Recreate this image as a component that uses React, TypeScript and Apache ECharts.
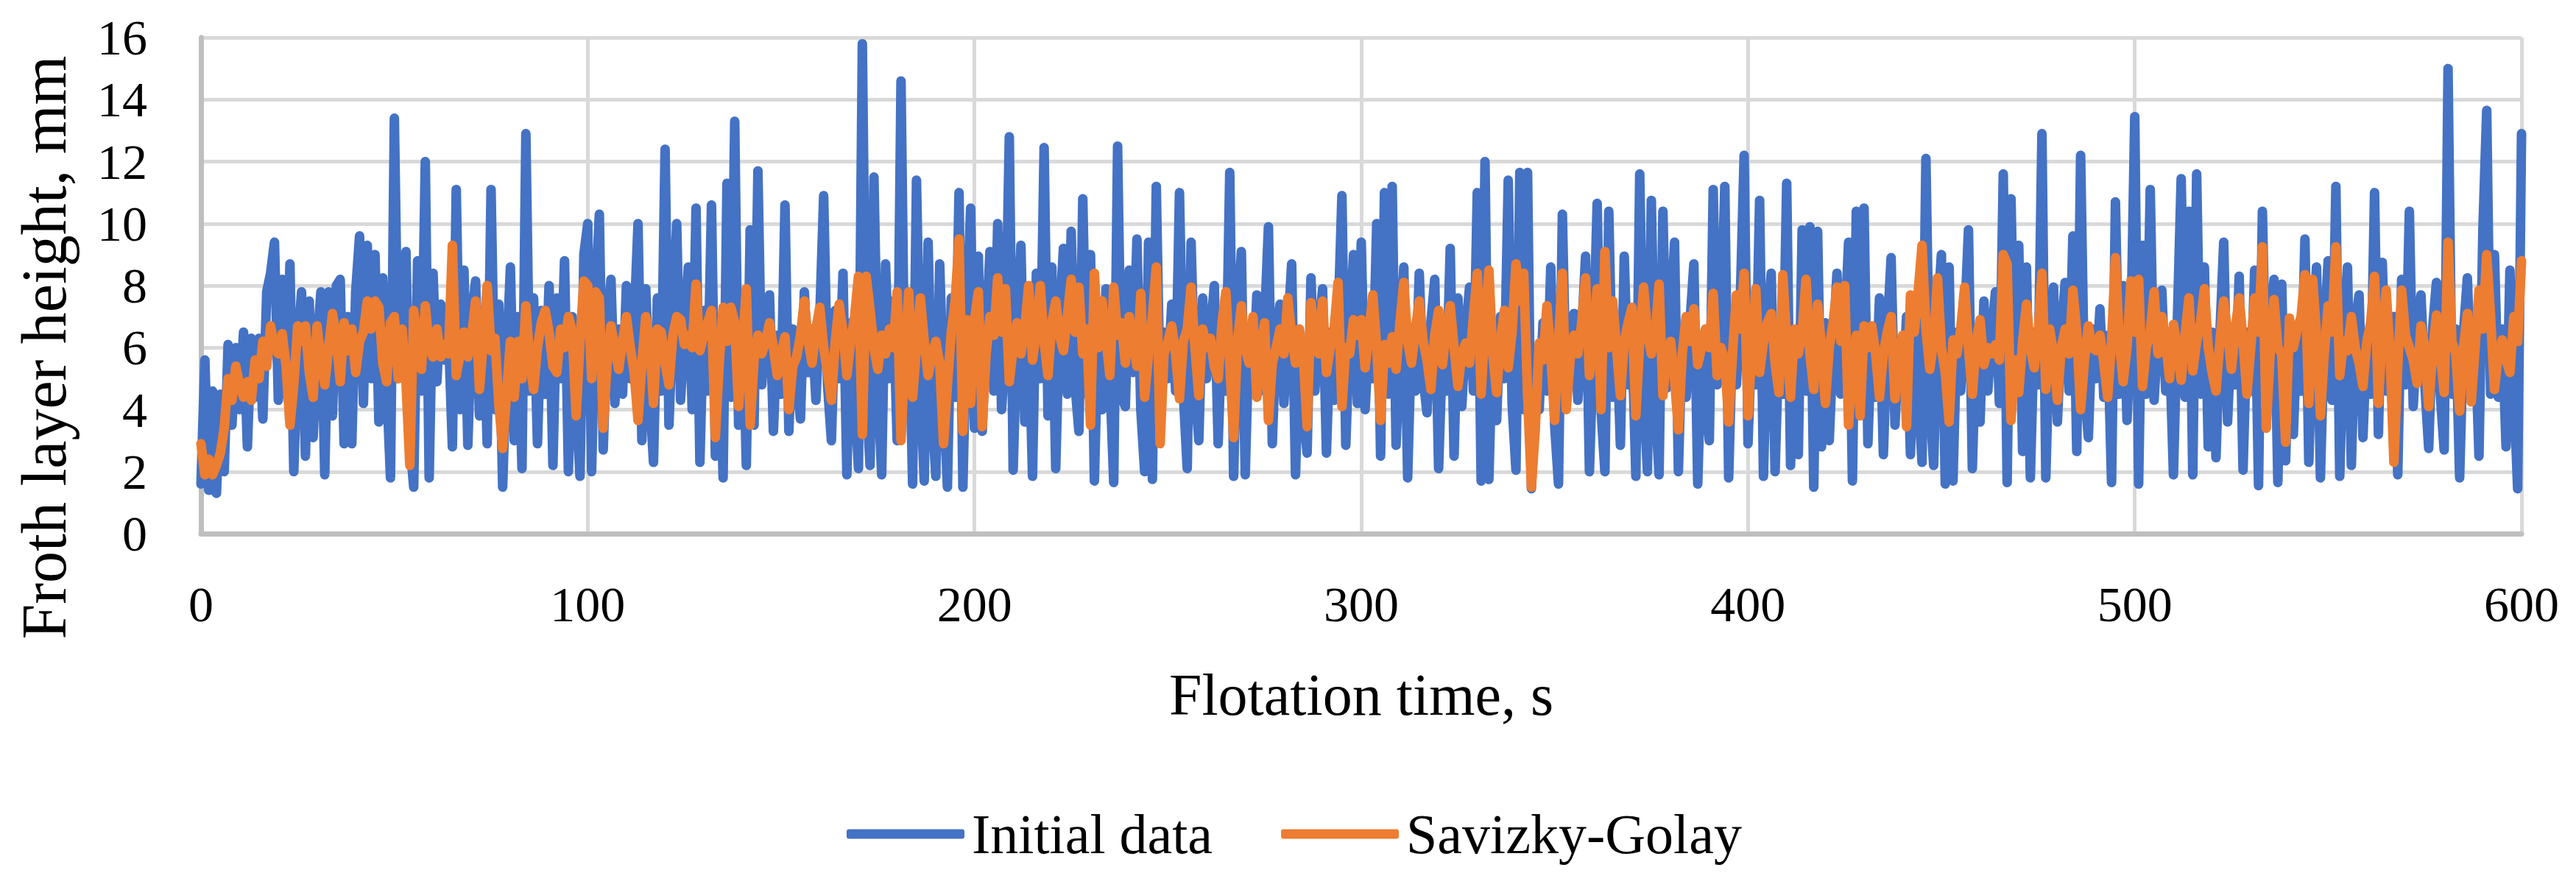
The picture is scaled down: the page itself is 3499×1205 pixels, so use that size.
import React, { useEffect, useRef } from "react";
import * as echarts from "echarts";

const FONT = '"Liberation Serif", "Times New Roman", serif';

// Sampling step of the recorded series (s)
const SAMPLE_STEP_S = 1;

// Initial data (froth layer height, mm), one value per second
const initial0to99 = [
  1.6, 5.6, 1.4, 4.6, 1.3, 4.5, 2.0, 6.1, 3.5, 6.0,
  4.0, 6.5, 2.8, 6.3, 4.4, 6.3, 3.7, 7.8, 8.4, 9.4,
  4.3, 8.2, 4.5, 8.7, 2.0, 6.0, 7.8, 2.5, 7.5, 3.1,
  6.0, 7.8, 1.9, 7.8, 3.8, 8.0, 8.2, 2.9, 7.0, 2.9,
  7.8, 9.6, 4.2, 9.3, 5.0, 9.0, 3.6, 8.25, 4.8, 1.8,
  13.4, 5.0, 7.6, 9.1, 3.0, 1.5, 8.8, 4.6, 12.0, 1.8,
  8.4, 4.9, 7.4, 5.6, 6.5, 2.8, 11.1, 4.0, 8.5, 2.85,
  7.0, 8.15, 3.8, 7.2, 2.9, 11.1, 4.0, 7.4, 1.5, 5.5,
  8.6, 3.0, 7.0, 2.1, 12.9, 4.6, 7.6, 2.9, 7.2, 4.5,
  8.0, 2.2, 7.6, 5.0, 8.8, 2.0, 7.0, 4.2, 1.85, 9.0,
];
const initial100to199 = [
  10.0, 2.0, 7.5, 10.3, 2.7, 6.5, 8.2, 4.2, 6.6, 4.5,
  8.0, 5.0, 6.8, 10.0, 3.0, 7.9, 4.5, 2.3, 7.6, 4.6,
  12.4, 3.5, 7.0, 10.0, 4.3, 6.4, 8.6, 4.0, 10.5, 2.3,
  7.2, 4.6, 10.6, 2.5, 6.7, 1.8, 11.3, 4.4, 13.3, 3.5,
  7.5, 2.2, 9.8, 3.5, 11.7, 4.8, 7.0, 7.7, 3.3, 6.4,
  4.5, 10.6, 3.3, 6.6, 5.0, 3.7, 7.8, 5.2, 6.6, 4.3,
  7.0, 10.9, 4.8, 3.0, 7.2, 5.0, 8.4, 1.9, 6.8, 4.6,
  2.1, 15.8, 4.5, 2.2, 11.5, 4.8, 1.9, 8.7, 5.0, 7.5,
  3.0, 14.6, 4.2, 7.3, 1.6, 11.4, 4.8, 1.7, 9.4, 4.0,
  1.85, 8.7, 4.5, 1.5, 7.6, 4.4, 11.0, 1.5, 7.0, 10.5,
];
const initial200to299 = [
  3.4, 8.95, 3.3, 6.5, 9.1, 4.6, 10.0, 4.0, 6.0, 12.8,
  2.05, 6.5, 9.3, 3.6, 6.8, 1.85, 8.4, 5.0, 12.45, 3.8,
  8.6, 2.1, 7.0, 9.2, 4.5, 9.75, 4.8, 3.3, 10.8, 4.5,
  9.0, 1.7, 6.8, 4.0, 7.9, 5.0, 1.65, 12.5, 4.4, 4.1,
  8.5, 5.2, 9.5, 4.0, 2.0, 9.4, 1.75, 11.2, 4.3, 6.5,
  5.0, 7.4, 4.6, 11.0, 4.5, 2.1, 9.4, 4.8, 3.0, 7.6,
  5.0, 6.5, 8.0, 2.9, 6.6, 4.6, 11.65, 1.85, 7.0, 9.1,
  1.9, 6.5, 4.8, 7.7, 4.6, 6.8, 9.9, 2.9, 6.4, 7.4,
  4.2, 6.5, 8.7, 1.9, 6.2, 4.0, 2.6, 8.25, 4.6, 6.5,
  7.9, 2.6, 6.5, 4.3, 6.8, 10.9, 2.85, 6.5, 9.0, 4.2,
];
const initial300to399 = [
  9.4, 4.0, 6.5, 5.0, 10.0, 2.5, 11.0, 4.5, 11.2, 2.85,
  6.0, 8.6, 1.8, 6.5, 4.6, 8.4, 5.0, 3.9, 6.8, 8.2,
  2.1, 6.0, 4.6, 9.2, 2.5, 7.6, 4.1, 6.5, 7.95, 4.6,
  11.0, 1.7, 12.0, 1.75, 6.5, 3.65, 7.0, 5.0, 11.4, 4.2,
  2.05, 11.65, 4.0, 11.65, 1.45, 5.5, 4.0, 6.8, 4.6, 8.6,
  3.5, 1.6, 10.3, 4.5, 6.0, 7.1, 4.3, 6.5, 8.95, 2.0,
  6.0, 10.65, 4.0, 2.0, 10.4, 4.4, 6.8, 2.85, 8.95, 4.8,
  6.4, 1.85, 11.6, 4.5, 2.0, 10.75, 4.2, 1.9, 10.4, 4.7,
  6.8, 9.4, 2.0, 6.5, 4.4, 6.8, 8.7, 1.6, 6.0, 4.5,
  3.0, 11.1, 4.8, 6.8, 11.2, 1.8, 6.5, 4.8, 7.5, 12.2,
];
const initial400to499 = [
  2.9, 6.5, 4.8, 10.75, 1.85, 6.8, 8.4, 2.0, 6.3, 4.5,
  11.3, 2.2, 6.5, 2.55, 9.8, 4.6, 9.9, 1.5, 9.75, 2.8,
  6.8, 3.0, 6.0, 8.4, 4.5, 6.5, 9.4, 1.7, 10.4, 4.6,
  10.5, 2.9, 6.6, 4.4, 7.6, 2.55, 6.5, 8.9, 3.5, 6.2,
  4.6, 7.0, 2.55, 6.8, 4.5, 2.3, 12.1, 4.3, 2.2, 7.0,
  9.0, 1.6, 8.6, 1.7, 6.5, 4.6, 6.8, 9.8, 2.1, 6.4,
  3.6, 7.5, 4.6, 6.5, 7.8, 4.2, 11.6, 1.65, 10.8, 4.5,
  9.3, 2.65, 8.6, 1.8, 6.5, 4.8, 12.9, 1.8, 6.6, 7.95,
  3.6, 6.5, 8.1, 4.6, 9.6, 2.65, 12.2, 4.6, 3.1, 6.6,
  5.0, 7.25, 4.4, 6.4, 1.65, 10.7, 4.5, 8.0, 3.65, 6.5,
];
const initial500to600 = [
  13.45, 1.6, 9.3, 4.5, 11.1, 4.3, 6.5, 7.85, 4.6, 6.0,
  1.9, 6.8, 11.45, 4.4, 10.4, 1.9, 11.6, 4.5, 8.6, 2.8,
  6.5, 2.45, 6.4, 9.4, 3.6, 6.6, 4.8, 8.3, 2.05, 6.5,
  4.6, 8.5, 1.55, 10.4, 4.4, 6.6, 8.2, 1.65, 8.05, 2.35,
  6.8, 3.2, 6.5, 4.6, 9.5, 2.3, 6.6, 8.6, 1.8, 6.5,
  8.8, 4.3, 11.2, 1.85, 6.5, 8.6, 2.2, 6.8, 7.7, 3.1,
  6.4, 4.5, 11.0, 3.2, 8.75, 4.6, 6.8, 7.0, 1.9, 8.2,
  4.8, 10.4, 4.1, 6.5, 7.7, 4.8, 2.75, 6.6, 8.1, 4.5,
  2.7, 15.0, 4.5, 6.6, 1.8, 6.5, 8.25, 4.5, 6.4, 2.5,
  9.75, 13.65, 4.5, 9.0, 4.4, 6.6, 2.8, 8.5, 4.6, 1.45,
  12.9,
];

// Savizky-Golay smoothed series (mm), one value per second
const smooth0to99 = [
  2.9, 1.9, 2.4, 1.9, 2.2, 2.6, 3.4, 5.0, 4.3, 5.4,
  4.8, 4.4, 4.9, 4.3, 5.6, 5.0, 6.2, 5.4, 6.7, 6.0,
  5.8, 6.45, 5.4, 3.5, 4.8, 6.7, 6.2, 6.7, 5.2, 4.4,
  6.7, 5.6, 4.8, 6.0, 7.1, 6.3, 4.9, 6.8, 5.9, 6.6,
  5.2, 6.2, 6.5, 7.5, 6.6, 7.5, 7.3, 5.5, 4.9, 6.8,
  7.0, 5.0, 6.6, 4.9, 2.2, 7.2, 6.1, 5.3, 7.35, 6.0,
  5.7, 6.6, 5.7, 6.1, 5.8, 9.3, 5.1, 5.8, 6.5, 5.7,
  6.4, 7.5, 4.65, 6.2, 8.0, 5.9, 6.3, 4.2, 2.75, 4.5,
  6.2, 4.4, 6.2, 5.0, 7.35, 5.6, 4.65, 6.0, 6.8, 7.2,
  6.5, 5.4, 5.2, 6.6, 6.0, 7.0, 6.5, 3.8, 6.2, 8.15,
];
const smooth100to199 = [
  8.0, 5.0, 7.8, 7.6, 3.4, 5.5, 6.7, 6.0, 5.3, 6.2,
  7.0, 6.0, 5.2, 3.65, 5.5, 7.0, 6.2, 4.2, 6.6, 6.5,
  5.5, 4.8, 6.4, 7.0, 6.9, 6.1, 6.4, 6.0, 8.05, 5.9,
  6.4, 6.8, 7.2, 3.1, 5.5, 7.3, 6.2, 7.3, 6.8, 4.1,
  6.0, 7.9, 3.5, 5.6, 6.4, 5.8, 6.2, 6.8, 6.0, 5.1,
  5.8, 6.35, 4.0, 5.4, 5.7, 6.4, 7.5, 6.2, 5.5, 6.6,
  7.3, 6.0, 5.2, 4.3, 6.2, 7.4, 6.5, 5.1, 6.2, 7.0,
  8.3, 3.2, 8.3, 7.2, 6.0, 5.3, 6.4, 5.8, 6.6, 6.0,
  7.8, 3.0, 5.8, 7.8, 4.4, 6.0, 7.6, 6.2, 5.1, 5.8,
  6.2, 5.5, 2.9, 4.8, 6.5, 7.5, 9.5, 3.3, 6.9, 4.2,
];
const smooth200to299 = [
  6.9, 7.8, 3.45, 5.8, 7.0, 6.4, 8.25, 6.5, 7.9, 4.9,
  6.0, 6.8, 5.8, 6.6, 8.0, 5.6, 6.5, 8.0, 6.2, 5.1,
  6.8, 7.5, 6.4, 5.9, 7.0, 8.2, 6.5, 7.95, 5.8, 6.6,
  3.5, 8.4, 6.0, 7.5, 6.3, 5.1, 7.95, 6.4, 6.8, 5.5,
  7.0, 6.2, 5.4, 7.75, 4.4, 5.8, 7.0, 8.6, 2.9, 5.8,
  6.2, 6.7, 5.8, 4.35, 6.2, 6.6, 7.95, 6.0, 4.45, 6.6,
  6.0, 6.3, 5.4, 5.0, 6.8, 7.8, 5.5, 3.1, 6.2, 7.35,
  6.0, 5.5, 7.0, 4.4, 6.0, 6.8, 3.65, 5.5, 6.0, 6.6,
  5.8, 7.6, 6.4, 5.5, 6.6, 5.8, 3.45, 7.45, 6.5, 5.8,
  7.5, 5.2, 6.0, 6.6, 8.1, 4.1, 6.0, 5.8, 6.9, 6.4,
];
const smooth300to399 = [
  6.9, 5.35, 6.5, 7.7, 6.0, 3.65, 6.1, 5.5, 6.35, 5.3,
  6.8, 8.1, 6.2, 5.5, 6.6, 7.5, 6.2, 5.6, 4.65, 6.4,
  7.2, 5.45, 6.6, 7.35, 6.0, 4.75, 5.8, 6.15, 5.5, 7.0,
  8.4, 4.5, 6.8, 8.5, 5.8, 4.55, 6.2, 7.2, 5.35, 6.5,
  8.7, 7.5, 8.4, 4.5, 1.5, 3.4, 6.15, 5.6, 7.35, 5.8,
  3.65, 6.2, 8.4, 4.0, 5.6, 6.4, 5.8, 6.8, 8.25, 5.1,
  6.3, 7.9, 4.0, 9.1, 6.0, 7.5, 6.0, 4.45, 6.2, 6.8,
  7.3, 3.8, 6.2, 7.95, 6.5, 5.8, 6.4, 8.05, 4.45, 5.8,
  6.2, 5.0, 3.35, 5.8, 7.0, 6.2, 7.25, 5.45, 6.0, 6.6,
  6.0, 7.75, 5.1, 6.0, 5.6, 3.6, 5.8, 7.7, 6.6, 8.4,
];
const smooth400to499 = [
  3.8, 6.0, 7.9, 5.2, 6.2, 6.8, 7.1, 5.5, 4.55, 8.35,
  6.2, 4.4, 6.6, 5.8, 6.5, 8.2, 5.8, 4.65, 7.4, 6.0,
  4.2, 6.0, 6.8, 7.95, 6.2, 8.0, 3.5, 5.5, 6.4, 3.8,
  6.7, 6.0, 6.7, 5.8, 4.4, 5.8, 6.5, 7.0, 4.35, 5.8,
  6.4, 3.45, 7.7, 6.5, 7.8, 9.3, 6.6, 5.3, 6.2, 8.25,
  6.0, 5.2, 3.6, 6.25, 5.8, 6.6, 7.95, 6.0, 4.5, 6.2,
  6.9, 5.45, 6.0, 5.8, 6.1, 5.6, 9.0, 8.7, 3.65, 5.6,
  4.55, 6.2, 7.4, 6.0, 5.35, 6.4, 8.4, 4.65, 6.6, 5.8,
  4.3, 6.0, 6.6, 5.8, 7.85, 6.5, 4.0, 5.6, 6.7, 6.0,
  5.9, 6.4, 5.5, 4.4, 6.2, 8.9, 6.2, 4.9, 6.0, 8.15,
];
const smooth500to600 = [
  6.5, 8.2, 4.75, 6.0, 6.5, 7.8, 5.8, 7.0, 6.2, 5.0,
  6.75, 6.0, 4.95, 6.4, 7.6, 5.25, 6.2, 6.8, 7.9, 6.0,
  5.2, 4.6, 6.2, 7.5, 6.5, 5.3, 6.6, 7.6, 6.2, 4.5,
  6.0, 7.6, 6.5, 9.25, 3.4, 5.8, 7.55, 6.0, 5.8, 2.95,
  6.95, 6.0, 6.6, 7.0, 8.35, 4.2, 8.2, 6.4, 3.8, 5.8,
  7.35, 6.5, 9.25, 5.1, 6.2, 5.9, 7.0, 6.0, 5.5, 4.75,
  6.2, 6.8, 8.3, 4.2, 6.5, 7.85, 5.8, 2.3, 5.4, 7.85,
  6.4, 6.0, 5.6, 4.85, 6.7, 6.0, 4.1, 5.8, 7.05, 5.8,
  4.55, 9.4, 6.2, 5.8, 3.95, 6.0, 7.1, 4.25, 6.0, 7.85,
  6.6, 9.0, 7.0, 4.65, 5.8, 6.25, 5.6, 5.2, 7.0, 6.2,
  8.8,
];

const SERIES_NAMES = ["Initial data", "Savizky-Golay"];
const SERIES_COLORS = ["#4472C4", "#ED7D31"];
const X_AXIS_TITLE = "Flotation time, s";
const Y_AXIS_TITLE = "Froth layer height, mm";

const initialData = [
  ...initial0to99, ...initial100to199, ...initial200to299,
  ...initial300to399, ...initial400to499, ...initial500to600,
];
const smoothData = [
  ...smooth0to99, ...smooth100to199, ...smooth200to299,
  ...smooth300to399, ...smooth400to499, ...smooth500to600,
];

const toPairs = (vals: number[]) => vals.map((v, i) => [i * SAMPLE_STEP_S, v]);

export default function App() {
  const ref = useRef<HTMLDivElement>(null);
  useEffect(() => {
    if (!ref.current) return;
    const chart = echarts.init(ref.current, null, { renderer: "svg" });
    const lineCommon = {
      type: "line",
      showSymbol: false,
      symbol: "none",
      silent: true,
      animation: false,
      clip: true,
    };
    chart.setOption({
      animation: false,
      backgroundColor: "#ffffff",
      grid: { left: 273, right: 74, top: 51, bottom: 480 },
      xAxis: {
        type: "value",
        min: 0,
        max: 600,
        interval: 100,
        axisLine: { show: true, lineStyle: { color: "#bfbfbf", width: 7 } },
        axisTick: { show: false },
        axisLabel: {
          margin: 62,
          fontFamily: FONT,
          fontSize: 68,
          color: "#000",
        },
        splitLine: { show: true, lineStyle: { color: "#d9d9d9", width: 5 } },
      },
      yAxis: {
        type: "value",
        min: 0,
        max: 16,
        interval: 2,
        axisLine: { show: true, lineStyle: { color: "#bfbfbf", width: 7 } },
        axisTick: { show: false },
        axisLabel: {
          margin: 73,
          fontFamily: FONT,
          fontSize: 68,
          color: "#000",
        },
        splitLine: { show: true, lineStyle: { color: "#d9d9d9", width: 5 } },
      },
      legend: {
        left: 1145,
        top: 1090,
        itemWidth: 160,
        itemHeight: 13,
        itemGap: 93,
        icon: "roundRect",
        data: SERIES_NAMES,
        textStyle: {
          fontFamily: FONT,
          fontSize: 76,
          color: "#000",
          padding: [0, 0, 0, 5],
        },
      },
      graphic: [
        {
          type: "text",
          x: 60,
          y: 472,
          rotation: Math.PI / 2,
          style: {
            text: Y_AXIS_TITLE,
            font: `86px ${FONT}`,
            fill: "#000",
            textAlign: "center",
            textVerticalAlign: "middle",
          },
        },
        {
          type: "text",
          x: 1849,
          y: 944,
          style: {
            text: X_AXIS_TITLE,
            font: `80px ${FONT}`,
            fill: "#000",
            textAlign: "center",
            textVerticalAlign: "middle",
          },
        },
      ],
      series: [
        {
          ...lineCommon,
          name: SERIES_NAMES[0],
          data: toPairs(initialData),
          color: SERIES_COLORS[0],
          lineStyle: { color: SERIES_COLORS[0], width: 13, cap: "round", join: "round" },
          z: 2,
        },
        {
          ...lineCommon,
          name: SERIES_NAMES[1],
          data: toPairs(smoothData),
          color: SERIES_COLORS[1],
          lineStyle: { color: SERIES_COLORS[1], width: 13, cap: "round", join: "round" },
          z: 3,
        },
      ],
    });
    return () => chart.dispose();
  }, []);
  return (
    <div
      ref={ref}
      style={{ position: "fixed", left: 0, top: 0, width: 3499, height: 1205, background: "#fff" }}
    />
  );
}
